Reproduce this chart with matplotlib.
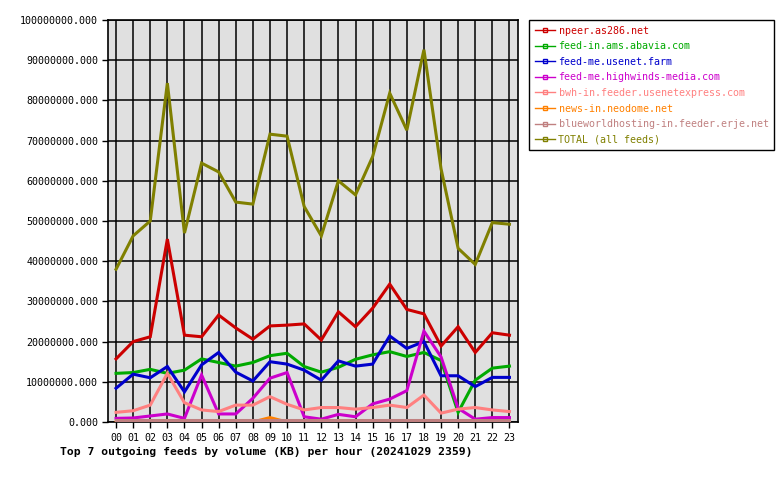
import matplotlib
matplotlib.use("Agg")
import matplotlib.pyplot as plt
from matplotlib.ticker import FuncFormatter, MultipleLocator

hours = ["%02d" % h for h in range(24)]

# values in millions of KB
npeer = [15.7, 20.0, 21.2, 45.5, 21.6, 21.2, 26.6, 23.4, 20.6, 23.9, 24.1, 24.4,
         20.4, 27.4, 23.7, 28.3, 34.3, 28.0, 26.9, 18.9, 23.7, 17.3, 22.2, 21.6]
abavia = [12.1, 12.3, 13.1, 12.1, 12.9, 15.7, 14.8, 13.9, 14.8, 16.5, 17.1, 13.8,
          12.4, 13.6, 15.6, 16.7, 17.5, 16.3, 17.3, 15.3, 2.4, 10.4, 13.4, 13.9]
usenetfarm = [8.4, 11.9, 11.0, 13.8, 7.5, 14.2, 17.3, 12.4, 10.2, 15.0, 14.4, 12.9,
              10.4, 15.2, 13.9, 14.4, 21.4, 18.3, 20.0, 11.5, 11.5, 8.8, 11.1, 11.1]
highwinds = [0.9, 1.0, 1.5, 2.0, 0.9, 11.7, 2.0, 2.0, 5.9, 10.9, 12.3, 1.3,
             0.7, 1.9, 1.3, 4.5, 5.7, 7.8, 22.6, 16.2, 3.4, 0.7, 1.1, 1.1]
usenetexpress = [2.4, 2.8, 4.2, 12.1, 4.8, 3.0, 2.6, 4.2, 4.2, 6.3, 4.4, 3.0,
                 3.6, 3.6, 3.2, 3.6, 4.2, 3.6, 6.7, 2.2, 3.2, 3.6, 3.0, 2.6]
neodome = [0, 0, 0, 0, 0, 0, 0, 0, 0, 1.1, 0, 0,
           0, 0, 0, 0, 0, 0, 0, 0, 0, 0, 0, 0]
erje = [0.5] * 24
total = [38.0, 46.3, 50.0, 84.3, 47.0, 64.4, 62.2, 54.7, 54.2, 71.6, 71.1, 53.6,
         46.3, 60.0, 56.5, 66.0, 81.8, 72.6, 92.6, 63.0, 43.2, 39.2, 49.6, 49.2]

series = [
    ("npeer.as286.net", npeer, "#cc0000"),
    ("feed-in.ams.abavia.com", abavia, "#00aa00"),
    ("feed-me.usenet.farm", usenetfarm, "#0000cc"),
    ("feed-me.highwinds-media.com", highwinds, "#cc00cc"),
    ("bwh-in.feeder.usenetexpress.com", usenetexpress, "#ff8080"),
    ("news-in.neodome.net", neodome, "#ff8000"),
    ("blueworldhosting-in.feeder.erje.net", erje, "#c08080"),
    ("TOTAL (all feeds)", total, "#808000"),
]

plt.rcParams["font.family"] = "DejaVu Sans Mono"
plt.rcParams["font.size"] = 7.2

fig = plt.figure(figsize=(7.8, 4.8), dpi=100)
ax = fig.add_axes([108 / 780, 58 / 480, 410 / 780, 402 / 480])
ax.set_facecolor("#e0e0e0")

x = list(range(24))
handles = []
for name, vals, col in series:
    ax.plot(x, [v * 1e6 for v in vals], color=col, lw=2.2, solid_joinstyle="miter", zorder=3)
    h, = ax.plot([], [], color=col, lw=1, marker="s", ms=2.5, mfc="none", mec=col)
    h.set_label(name)
    handles.append(h)

ax.set_xlim(-0.47, 23.5)
ax.set_ylim(0, 100e6)
ax.set_xticks(x)
ax.set_xticklabels(hours)
ax.yaxis.set_major_locator(MultipleLocator(10e6))
ax.yaxis.set_major_formatter(FuncFormatter(lambda v, p: "%.3f" % v))
ax.grid(True, color="black", lw=1.1, zorder=1)
ax.set_axisbelow(True)
for s in ax.spines.values():
    s.set_color("black")
    s.set_linewidth(1.2)
ax.tick_params(axis="y", length=4, width=1, pad=3, labelsize=7.2)
ax.tick_params(axis="x", length=4, width=1, pad=4, labelsize=7.2)

leg = fig.legend(handles=handles, loc="upper left", bbox_to_anchor=(529 / 780, 1 - 20 / 480),
                 borderaxespad=0, borderpad=0.55, fancybox=False, edgecolor="black", framealpha=1,
                 labelcolor="linecolor", handlelength=2.0, handletextpad=0.4,
                 labelspacing=0.56, fontsize=7.2)
leg.get_frame().set_linewidth(1.0)

fig.text(60 / 780, 1 - 452 / 480, "Top 7 outgoing feeds by volume (KB) per hour (20241029 2359)",
         fontsize=8.2, fontweight="bold", va="center", ha="left")

fig.savefig("out.png", dpi=100)
